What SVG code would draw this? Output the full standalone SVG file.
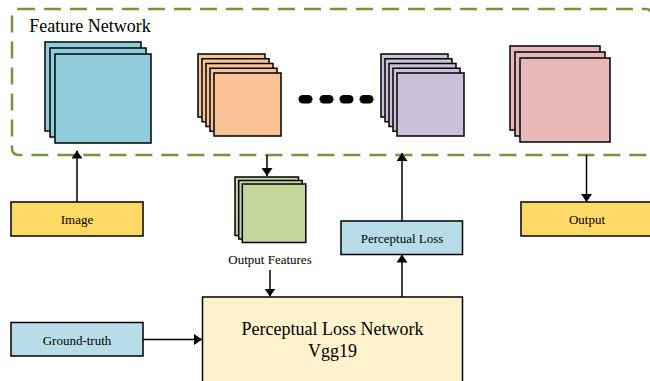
<svg xmlns="http://www.w3.org/2000/svg" width="650" height="381" viewBox="0 0 650 381">
<style>
.lyr{stroke:#000;stroke-width:1.5}
.box{stroke:#000;stroke-width:1.5}
.t{font-family:"Liberation Serif","Times New Roman",serif;fill:#000;text-anchor:middle}
.s{font-size:13px}
.c{stroke:#000;stroke-width:1.5;fill:none;marker-end:url(#ah)}
</style>
<defs>
<marker id="ah" viewBox="0 0 8 11" refX="8" refY="5.5" markerWidth="8" markerHeight="11" markerUnits="userSpaceOnUse" orient="auto">
<path d="M0,0 L8,5.5 L0,11 z" fill="#000"/>
</marker>
</defs>
<rect width="650" height="381" fill="#fff"/>
<g id="feature-network">
<rect x="12" y="9" width="640" height="146" rx="6" fill="none" stroke="#77933C" stroke-width="2.5" stroke-dasharray="17 9"/>
<text class="t" x="90" y="32" font-size="18">Feature Network</text>
</g>
<g id="stack-blue" fill="#92CDDC">
<rect class="lyr" x="45" y="42" width="96" height="89"/>
<rect class="lyr" x="50" y="48" width="96" height="89"/>
<rect class="lyr" x="55" y="54" width="96" height="89"/>
</g>
<g id="stack-orange" fill="#FAC396">
<rect class="lyr" x="198" y="54" width="67" height="63"/>
<rect class="lyr" x="202" y="58.75" width="67" height="63"/>
<rect class="lyr" x="206" y="63.5" width="67" height="63"/>
<rect class="lyr" x="210" y="68.25" width="67" height="63"/>
<rect class="lyr" x="214" y="73" width="67" height="63"/>
</g>
<g id="ellipsis" fill="#000">
<rect x="298.5" y="95" width="14" height="8.5" rx="4.2"/>
<rect x="319.5" y="95" width="14" height="8.5" rx="4.2"/>
<rect x="339.5" y="95" width="14" height="8.5" rx="4.2"/>
<rect x="359.5" y="95" width="14" height="8.5" rx="4.2"/>
</g>
<g id="stack-purple" fill="#CCC1DA">
<rect class="lyr" x="381" y="54" width="67" height="63"/>
<rect class="lyr" x="385" y="58.75" width="67" height="63"/>
<rect class="lyr" x="389" y="63.5" width="67" height="63"/>
<rect class="lyr" x="393" y="68.25" width="67" height="63"/>
<rect class="lyr" x="397" y="73" width="67" height="63"/>
</g>
<g id="stack-pink" fill="#E6B9B8">
<rect class="lyr" x="510" y="46" width="90" height="84"/>
<rect class="lyr" x="515" y="52" width="90" height="84"/>
<rect class="lyr" x="520" y="58" width="90" height="84"/>
</g>
<g id="image">
<rect class="box" x="11" y="202" width="132" height="34" fill="#FFD966"/>
<text class="t s" x="77" y="224">Image</text>
</g>
<g id="output-features">
<rect class="lyr" x="235" y="177" width="63.5" height="58.5" fill="#C3D69B"/>
<rect class="lyr" x="238.7" y="180.5" width="63.5" height="58.5" fill="#C3D69B"/>
<rect class="lyr" x="242.3" y="184" width="63.5" height="58.5" fill="#C3D69B"/>
<text class="t s" x="270" y="264">Output Features</text>
</g>
<g id="perceptual-loss">
<rect class="box" x="341" y="221" width="121.5" height="33.5" fill="#B7DEE8"/>
<text class="t s" x="402" y="243">Perceptual Loss</text>
</g>
<g id="output">
<rect class="box" x="521" y="202" width="132" height="34" fill="#FFD966"/>
<text class="t s" x="587" y="224">Output</text>
</g>
<g id="ground-truth">
<rect class="box" x="11" y="322.5" width="132" height="33.5" fill="#B7DEE8"/>
<text class="t s" x="77" y="345">Ground-truth</text>
</g>
<g id="perceptual-loss-network">
<rect class="box" x="202.5" y="297" width="260" height="100" fill="#FFF2CC"/>
<text class="t" x="332.5" y="335" font-size="18">Perceptual Loss Network</text>
<text class="t" x="332.5" y="357" font-size="18">Vgg19</text>
</g>
<g id="connectors">
<path class="c" d="M77,202 V150.5"/>
<path class="c" d="M267,155 V176"/>
<path class="c" d="M270,270 V296.5"/>
<path class="c" d="M143,339.5 H202"/>
<path class="c" d="M402,297 V254.5"/>
<path class="c" d="M402,221 V153"/>
<path class="c" d="M586.5,155 V202"/>
</g>
</svg>
